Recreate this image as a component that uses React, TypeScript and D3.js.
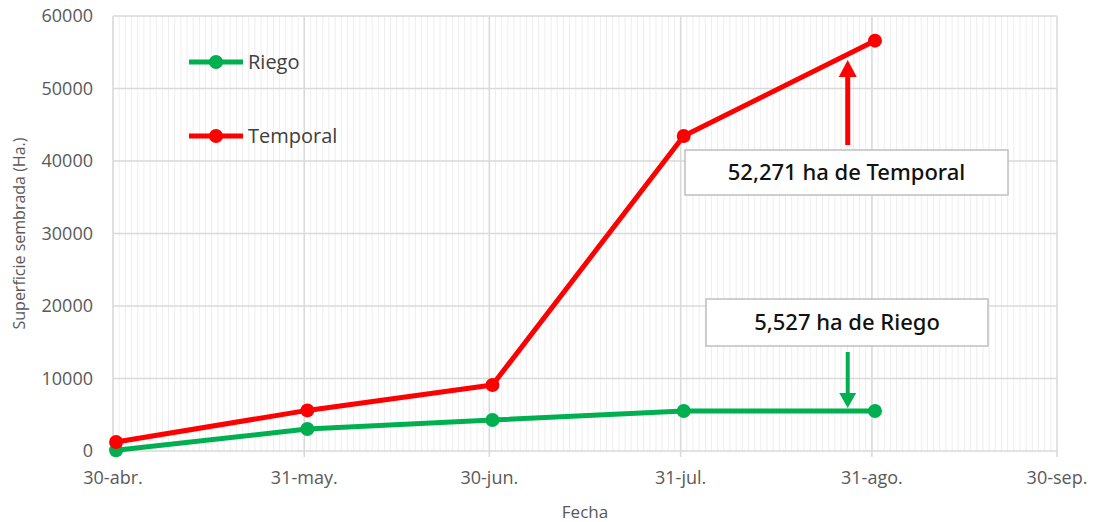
import React from 'react';
import * as d3 from 'd3';

// fechas de corte y superficie sembrada acumulada (ha)
const fechas = ['2023-04-30', '2023-05-31', '2023-06-30', '2023-07-31', '2023-08-31'];
const riego = [100, 3030, 4280, 5520, 5527];
const temporal = [1240, 5600, 9100, 43450, 56600];

const xTicks = ['2023-04-30', '2023-05-31', '2023-06-30', '2023-07-31', '2023-08-31', '2023-09-30'];
const xTickLabels = ['30-abr.', '31-may.', '30-jun.', '31-jul.', '31-ago.', '30-sep.'];
const yTicks = [0, 10000, 20000, 30000, 40000, 50000, 60000];

const parse = d3.timeParse('%Y-%m-%d');

const App: React.FC = () => {
  const width = 1096;
  const height = 522;
  const left = 113, right = 1057, top = 16, bottom = 451;

  const x = d3.scaleTime()
    .domain([parse(xTicks[0])!, parse(xTicks[xTicks.length - 1])!])
    .range([left, right]);
  const y = d3.scaleLinear().domain([0, 60000]).range([bottom, top]);

  const days = d3.timeDay.range(parse(xTicks[0])!, parse(xTicks[xTicks.length - 1])!);
  const majors = xTicks.map(d => parse(d)!);

  // los puntos caen a mitad del día
  const px = (d: Date) => x(d3.timeHour.offset(d, 12));

  const line = d3.line<[Date, number]>()
    .x(d => px(d[0]))
    .y(d => y(d[1]));

  const series = [
    { name: 'Riego', color: '#00b050', values: riego },
    { name: 'Temporal', color: '#ff0000', values: temporal },
  ];

  const font = "'Open Sans', 'Noto Sans', sans-serif";
  const annFont = "'Noto Sans', 'Open Sans', sans-serif";

  // anotaciones: flechas hacia el último dato
  const annX = x(parse('2023-08-27')!) + 0.5;

  return (
    <svg width={width} height={height} style={{ position: 'absolute', left: 0, top: 0, background: '#fff' }}>
      {/* líneas de cuadrícula menores (diarias) */}
      {days.map((d, i) => (
        <line key={'m' + i} x1={x(d)} x2={x(d)} y1={top} y2={bottom} stroke="#eeeeee" strokeWidth={1} />
      ))}
      {/* cuadrícula horizontal */}
      {yTicks.map(v => (
        <line key={'h' + v} x1={left} x2={right} y1={y(v)} y2={y(v)} stroke="#d9d9d9" strokeWidth={1.5} />
      ))}
      {/* cuadrícula vertical mayor */}
      {majors.map((d, i) => (
        <g key={'v' + i}>
          <line x1={x(d)} x2={x(d)} y1={top} y2={bottom + 6} stroke="#d9d9d9" strokeWidth={1.5} />
          <text x={x(d)} y={bottom + 33} textAnchor="middle" fontFamily={font} fontSize={18} fill="#595959">
            {xTickLabels[i]}
          </text>
        </g>
      ))}
      {yTicks.map(v => (
        <text key={'yt' + v} x={left - 20} y={y(v) + 6} textAnchor="end" fontFamily={font} fontSize={18} fill="#595959">
          {v}
        </text>
      ))}
      <text x={0} y={0} transform={`translate(25,${(top + bottom) / 2}) rotate(-90)`} textAnchor="middle"
        fontFamily={font} fontSize={16} fill="#595959">Superficie sembrada (Ha.)</text>
      <text x={(left + right) / 2} y={518} textAnchor="middle" fontFamily={font} fontSize={17} fill="#595959">Fecha</text>

      {/* series */}
      {series.map(s => {
        const pts: [Date, number][] = fechas.map((f, i) => [parse(f)!, s.values[i]]);
        return (
          <g key={s.name}>
            <path d={line(pts)!} fill="none" stroke={s.color} strokeWidth={5} strokeLinejoin="round" />
            {pts.map((p, i) => (
              <circle key={i} cx={px(p[0])} cy={y(p[1])} r={7} fill={s.color} />
            ))}
          </g>
        );
      })}

      {/* leyenda */}
      {series.map((s, i) => {
        const ly = 62 + i * 74;
        return (
          <g key={'lg' + s.name}>
            <line x1={189} x2={243} y1={ly} y2={ly} stroke={s.color} strokeWidth={5} />
            <circle cx={216} cy={ly} r={7} fill={s.color} />
            <text x={248} y={ly + 7} fontFamily={font} fontSize={20} fill="#404040">{s.name}</text>
          </g>
        );
      })}

      {/* anotación temporal */}
      <line x1={annX} x2={annX} y1={145} y2={76} stroke="#ff0000" strokeWidth={5} />
      <path d={`M${annX - 9},${77} L${annX + 9},${77} L${annX},${60} Z`} fill="#ff0000" />
      <rect x={685} y={150} width={323} height={45} fill="#fff" stroke="#bfbfbf" strokeWidth={1.5} />
      <text x={846.5} y={180} textAnchor="middle" fontFamily={annFont} fontWeight={500} fontSize={22} fill="#111">
        52,271 ha de Temporal
      </text>

      {/* anotación riego */}
      <line x1={annX} x2={annX} y1={352} y2={394} stroke="#00b050" strokeWidth={4} />
      <path d={`M${annX - 8.5},${393} L${annX + 8.5},${393} L${annX},${408} Z`} fill="#00b050" />
      <rect x={706} y={299} width={282} height={47} fill="#fff" stroke="#bfbfbf" strokeWidth={1.5} />
      <text x={847} y={330} textAnchor="middle" fontFamily={annFont} fontWeight={500} fontSize={22} fill="#111">
        5,527 ha de Riego
      </text>
    </svg>
  );
};

export default App;
